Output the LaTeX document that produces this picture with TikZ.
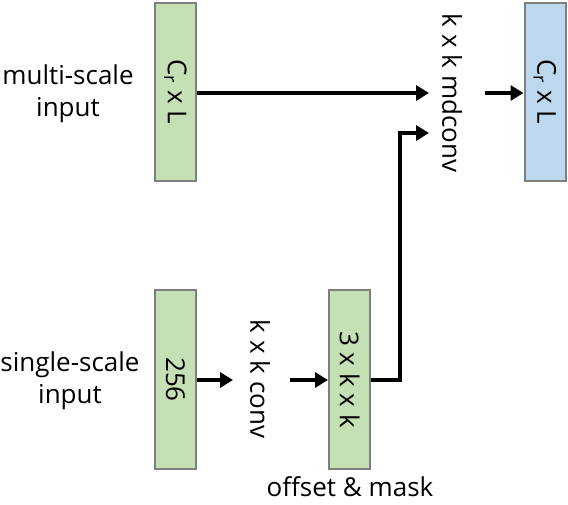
\documentclass[tikz,border=0pt]{standalone}
\usepackage{fontspec}
\setmainfont{Open Sans}
\usetikzlibrary{arrows.meta}
\definecolor{boxgreen}{HTML}{C5E0B4}
\definecolor{boxblue}{HTML}{BDD7EE}
\definecolor{boxedge}{HTML}{7F7F7F}
\begin{document}
\begin{tikzpicture}[x=1pt,y=-1pt,
  font=\fontsize{26}{32}\selectfont,
  featbox/.style={draw=boxedge,line width=2pt,minimum width=41pt,minimum height=178pt,inner sep=0pt},
  vlabel/.style={rotate=-90,inner sep=0pt},
  conn/.style={line width=4pt,-{Triangle[length=13pt,width=15pt]}}]
\useasboundingbox (0,0) rectangle (568,504);
% boxes
\node[featbox,fill=boxgreen] (ms) at (175.5,92) {};
\node[vlabel] at (ms.center) {C\textsubscript{r} x L};
\node[featbox,fill=boxblue] (out) at (545,92) {};
\node[vlabel] at (out.center) {C\textsubscript{r} x L};
\node[featbox,fill=boxgreen,minimum height=179pt] (ss) at (175.5,379.5) {};
\node[vlabel] at (ss.center) {256};
\node[featbox,fill=boxgreen,minimum height=179pt] (om) at (349.5,379.5) {};
\node[vlabel] at (om.center) {3 x k x k};
% labels
\node[align=center] (msl) at (68,94) {multi-scale\\input};
\node[align=center] (ssl) at (70,381) {single-scale\\input};
\node[vlabel] (mdc) at (452,93) {k x k mdconv};
\node[vlabel] (kc) at (260,379) {k x k conv};
\node (oml) at (350,487) {offset \& mask};
% connector ends
\coordinate (mdin1) at (429,93);
\coordinate (mdin2) at (429,133);
\coordinate (mdout) at (485,93);
\coordinate (kcin) at (233,380);
\coordinate (kcout) at (290,380);
% connectors
\draw[conn] (ms.east |- mdin1) -- (mdin1);
\draw[conn] (mdout) -- (out.west |- mdout);
\draw[conn] (ss.east |- kcin) -- (kcin);
\draw[conn] (kcout) -- (om.west |- kcout);
\draw[conn] (om.east |- kcout) -- (400,380) -- (400,133) -- (mdin2);
\end{tikzpicture}
\end{document}
